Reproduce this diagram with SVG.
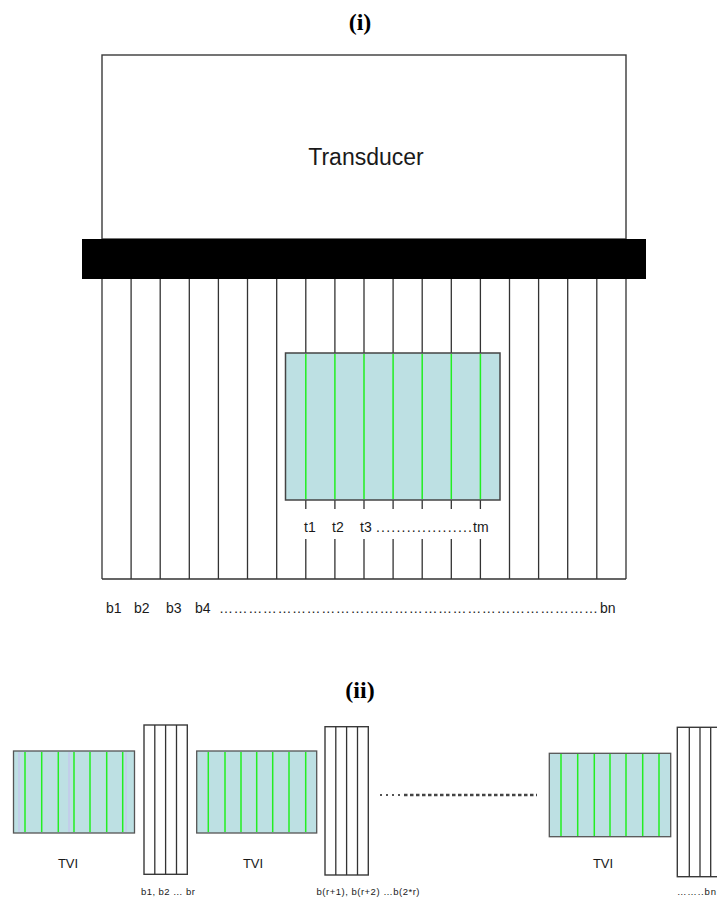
<svg xmlns="http://www.w3.org/2000/svg" width="717" height="903" viewBox="0 0 717 903">
  <style>
    .frame { fill: #ffffff; stroke: #3a3a3a; stroke-width: 1.4; }
    .beam { stroke: #333333; stroke-width: 1.3; fill: none; }
    .tvi { fill: #bde0e3; stroke: #444444; stroke-width: 1.5; }
    .tvi-small { fill: #bde0e3; stroke: #555555; stroke-width: 1.3; }
    .green { stroke: #22ee22; stroke-width: 1.5; }
    .lav { stroke: #c4c8ec; stroke-width: 1.5; }
    .sans { font-family: "Liberation Sans", Arial, sans-serif; fill: #1a1a1a; }
    .title { font-family: "Liberation Serif", "Times New Roman", serif; font-weight: bold; font-size: 24px; fill: #000; }
  </style>

  <!-- part (i): transducer with beam lines -->
  <text class="title" x="360" y="30" text-anchor="middle">(i)</text>

  <g id="transducer">
    <rect class="frame" x="102" y="55" width="524" height="184"/>
    <text class="sans" x="366" y="165" text-anchor="middle" font-size="23">Transducer</text>
  </g>

  <g id="array-bar">
    <rect x="82" y="239" width="564" height="40" fill="#000000"/>
  </g>

  <g id="beams">
    <!-- full-length beam lines -->
    <path class="beam" d="M102,279V579 M131.1,279V579 M160.2,279V579 M189.3,279V579 M218.4,279V579 M247.5,279V579 M276.7,279V579
                          M509.5,279V579 M538.6,279V579 M567.7,279V579 M596.8,279V579 M626,279V579
                          M102,579H626"/>
    <!-- beam lines interrupted by the TVI window -->
    <path class="beam" d="M305.8,279V353 M334.9,279V353 M364,279V353 M393.1,279V353 M422.2,279V353 M451.3,279V353 M480.4,279V353
                          M305.8,500V509 M334.9,500V509 M364,500V509 M393.1,500V509 M422.2,500V509 M451.3,500V509 M480.4,500V509
                          M305.8,539V579 M334.9,539V579 M364,539V579 M393.1,539V579 M422.2,539V579 M451.3,539V579 M480.4,539V579"/>
  </g>

  <g id="tvi-window">
    <rect class="tvi" x="285.5" y="353" width="214.5" height="147"/>
    <path class="green" d="M305.8,354V499 M334.9,354V499 M364,354V499 M393.1,354V499 M422.2,354V499 M451.3,354V499 M480.4,354V499"/>
    <text class="sans" font-size="14" y="532">
      <tspan x="304">t1</tspan><tspan x="332">t2</tspan><tspan x="360">t3</tspan><tspan x="376" textLength="96">...................</tspan><tspan x="473">tm</tspan>
    </text>
  </g>

  <g id="beam-labels">
    <text class="sans" font-size="14" y="613">
      <tspan x="106">b1</tspan><tspan x="134">b2</tspan><tspan x="166">b3</tspan><tspan x="195">b4</tspan><tspan x="219" textLength="379">……………………………………………………………………</tspan><tspan x="600">bn</tspan>
    </text>
  </g>

  <!-- part (ii): sequence of TVI windows and beam groups -->
  <text class="title" x="360" y="698" text-anchor="middle">(ii)</text>

  <g id="tvi-1">
    <rect class="tvi-small" x="13.5" y="751" width="121" height="82"/>
    <path class="lav" d="M19,752V832 M69,752V832 M126,752V832"/>
    <path class="green" d="M25,752V832 M41.7,752V832 M58.3,752V832 M74,752V832 M90,752V832 M106.7,752V832 M122.7,752V832"/>
    <text class="sans" font-size="13" x="68" y="868" text-anchor="middle">TVI</text>
  </g>

  <g id="beams-1">
    <rect class="frame" x="144" y="725" width="43.3" height="149.3"/>
    <path class="beam" d="M154.8,725V874.3 M165.6,725V874.3 M176.5,725V874.3"/>
    <text class="sans" font-size="9.5" x="168" y="895" text-anchor="middle" textLength="54">b1, b2 … br</text>
  </g>

  <g id="tvi-2">
    <rect class="tvi-small" x="196.7" y="751" width="120" height="82"/>
    <path class="green" d="M208.3,752V832 M225,752V832 M241,752V832 M256.7,752V832 M272.7,752V832 M289,752V832 M305.7,752V832"/>
    <text class="sans" font-size="13" x="253" y="868" text-anchor="middle">TVI</text>
  </g>

  <g id="beams-2">
    <rect class="frame" x="325" y="726.7" width="43.3" height="148.3"/>
    <path class="beam" d="M335.8,726.7V875 M346.6,726.7V875 M357.5,726.7V875"/>
    <text class="sans" font-size="9.5" x="368" y="895" text-anchor="middle" textLength="103">b(r+1), b(r+2) …b(2*r)</text>
  </g>

  <g id="connectors">
    <path d="M380,795H400" stroke="#555555" stroke-width="2" stroke-dasharray="2 4" fill="none"/>
    <path d="M404,795H537" stroke="#444444" stroke-width="2.4" stroke-dasharray="3.5 2.5" fill="none"/>
  </g>

  <g id="tvi-n">
    <rect class="tvi-small" x="549.3" y="753.3" width="121.4" height="83.4"/>
    <path class="green" d="M561,754V836 M577.7,754V836 M594.3,754V836 M610,754V836 M626,754V836 M642.7,754V836 M659,754V836"/>
    <text class="sans" font-size="13" x="603" y="868" text-anchor="middle">TVI</text>
  </g>

  <g id="beams-n">
    <rect class="frame" x="677.3" y="727.3" width="50" height="149.4"/>
    <path class="beam" d="M689.3,727.3V876.7 M710.7,727.3V876.7" stroke-width="2"/>
    <path class="beam" d="M700,727.3V876.7"/>
    <text class="sans" font-size="9.5" x="677" y="895" textLength="39">……..bn</text>
  </g>
</svg>
